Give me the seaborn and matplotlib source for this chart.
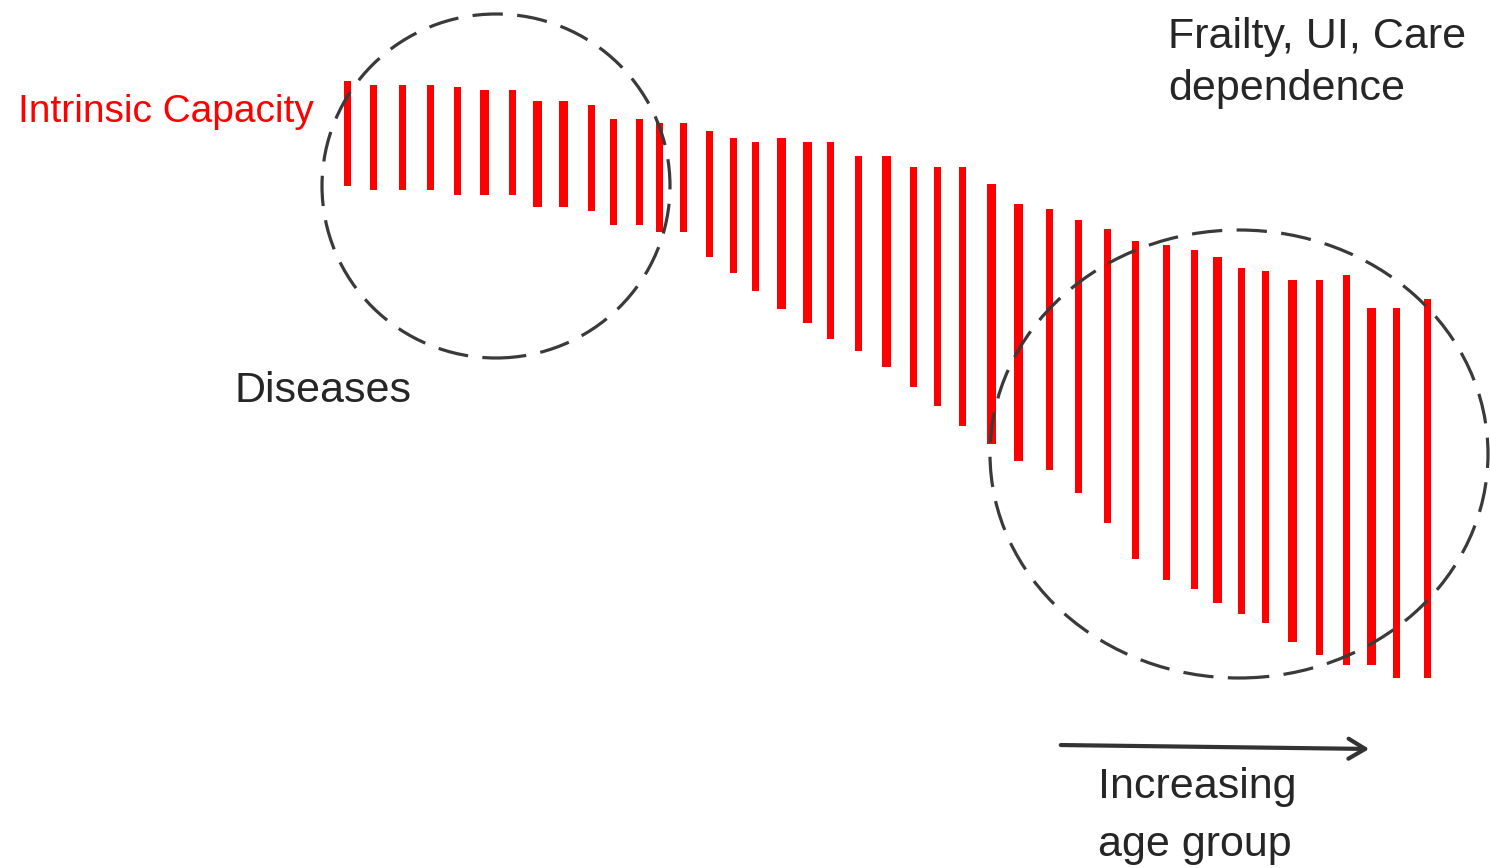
import matplotlib
matplotlib.use("Agg")
import matplotlib.pyplot as plt
from matplotlib.patches import Ellipse
import pandas as pd
import seaborn as sns

# Age steps (horizontal position) and intrinsic capacity range per step
age_pos = [347, 373, 402, 430, 457, 484, 512, 537, 563, 591,
           613, 639, 659, 683, 709, 733, 755, 781, 807, 830,
           858, 886, 913, 937, 962, 991, 1018, 1049, 1078, 1107,
           1135, 1166, 1194, 1217, 1241, 1265, 1292, 1319, 1346, 1371,
           1396, 1427]
ic_top = [787, 783, 783, 783, 781, 778, 778, 767, 767, 763,
          749, 749, 745, 745, 737, 730, 726, 730, 726, 726,
          712, 712, 701, 701, 701, 684, 664, 659, 648, 639,
          627, 623, 618, 611, 600, 597, 588, 588, 593, 560,
          560, 569]
ic_bottom = [682, 678, 678, 678, 673, 673, 673, 661, 661, 657,
             643, 643, 636, 636, 611, 595, 577, 559, 545, 529,
             517, 501, 481, 462, 442, 424, 407, 398, 375, 345,
             309, 288, 279, 265, 254, 245, 226, 213, 203, 203,
             190, 190]

df = pd.DataFrame({'age': age_pos, 'top': ic_top, 'bottom': ic_bottom})
df['span'] = df['top'] - df['bottom']

sns.set_theme(style="white")
plt.rcParams['font.family'] = ['Liberation Sans', 'DejaVu Sans']

#1. Set Figure
fig = plt.figure(figsize=(14.9, 8.68), dpi=100)
ax = fig.add_axes([0, 0, 1, 1])
ax.set_xlim(0, 1490)
ax.set_ylim(0, 868)
ax.axis('off')

#2. Bars (a few are drawn slightly wider, as in the original)
thick = {5, 7, 8, 17, 18, 21, 25, 26, 33, 36, 39}
widths = [9 if i in thick else 7 for i in range(len(df))]
ax.bar(df['age'], df['span'], bottom=df['bottom'], width=widths,
       color='#ff0000', linewidth=0, zorder=2)

#3. Dashed circles
dash = (0, (9.5, 4.5))
ax.add_patch(Ellipse((496, 682), 348, 344, fill=False, edgecolor='#3a3a3a',
                     linewidth=2.3, linestyle=dash, zorder=3))
ax.add_patch(Ellipse((1239, 414), 498, 448, fill=False, edgecolor='#3a3a3a',
                     linewidth=2.3, linestyle=dash, zorder=3))

#4. Labels
txt = '#262626'
ax.text(18, 746, 'Intrinsic Capacity', color='#ff0000', fontsize=28, va='baseline', ha='left')
ax.text(1168, 820, 'Frailty, UI, Care', color=txt, fontsize=31, va='baseline', ha='left')
ax.text(1168, 768, 'dependence', color=txt, fontsize=31, va='baseline', ha='left')
ax.text(235, 466, 'Diseases', color=txt, fontsize=31, va='baseline', ha='left')
ax.text(1098, 70, 'Increasing', color=txt, fontsize=31, va='baseline', ha='left')
ax.text(1098, 12, 'age group', color=txt, fontsize=31, va='baseline', ha='left')

#5. Arrow
ax.annotate('', xy=(1372, 119), xytext=(1058, 123),
            arrowprops=dict(arrowstyle='->,head_length=1.0,head_width=0.6',
                            color='#333333', lw=3))

fig.savefig('out.png', dpi=100)
